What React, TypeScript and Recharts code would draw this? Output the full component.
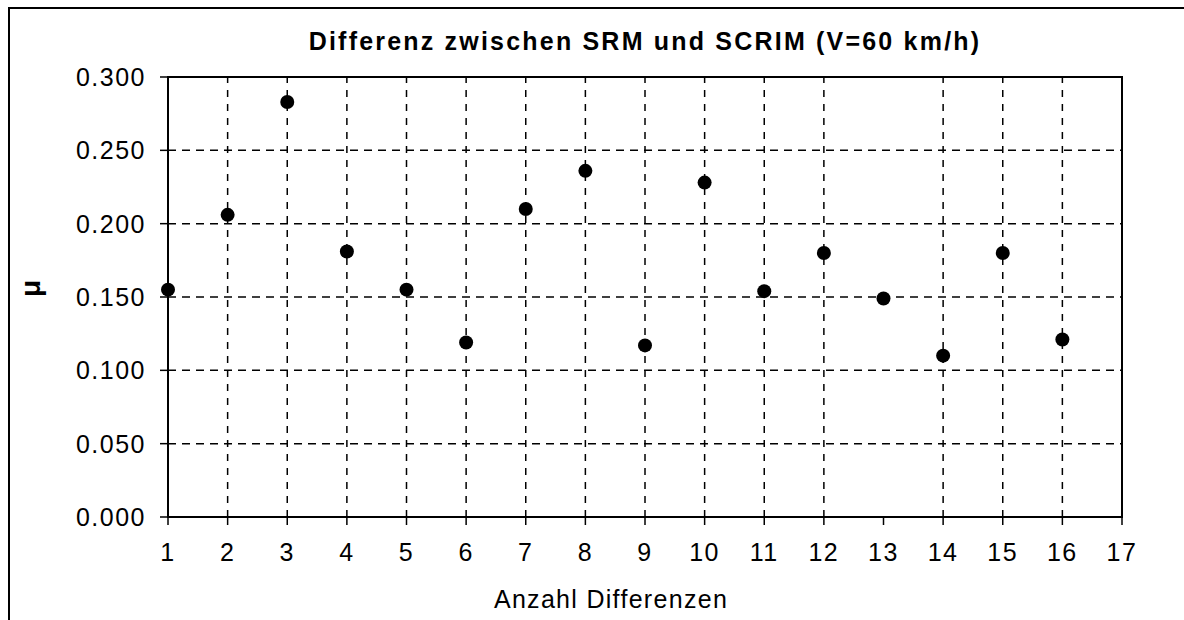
import {
  ScatterChart,
  Scatter,
  XAxis,
  YAxis,
  CartesianGrid,
  ReferenceLine,
  ReferenceArea,
} from "recharts";

const FONT = "'Liberation Sans', Arial, sans-serif";

const xValues = [1, 2, 3, 4, 5, 6, 7, 8, 9, 10, 11, 12, 13, 14, 15, 16];
const muValues = [
  0.155, 0.206, 0.283, 0.181, 0.155, 0.119, 0.21, 0.236, 0.117, 0.228, 0.154,
  0.18, 0.149, 0.11, 0.18, 0.121,
];
const xTicks = [1, 2, 3, 4, 5, 6, 7, 8, 9, 10, 11, 12, 13, 14, 15, 16, 17];
const yTicks = [0, 0.05, 0.1, 0.15, 0.2, 0.25, 0.3];
// vertical grid lines as they show in the scan (none at 13)
const gridX = [2, 3, 4, 5, 6, 7, 8, 9, 10, 11, 12, 14, 15, 16];

const data = xValues.map((x, i) => ({ x, mu: muValues[i] }));

export default function App() {
  const xTickStyle = { fill: "#000", fontSize: 25, fontFamily: FONT, letterSpacing: 1.5 };
  const yTickStyle = { fill: "#000", fontSize: 25, fontFamily: FONT, letterSpacing: 1.5 };

  return (
    <div>
      <div
        style={{
          position: "absolute",
          left: 8,
          top: 7,
          width: 1176,
          height: 613,
          boxSizing: "border-box",
          borderLeft: "2px solid #000",
          borderTop: "2px solid #000",
        }}
      />
      <div
        style={{
          position: "absolute",
          left: 0,
          top: 27,
          width: 1290,
          textAlign: "center",
          fontFamily: FONT,
          fontWeight: "bold",
          fontSize: 25,
          letterSpacing: 2.2,
          color: "#000",
        }}
      >
        Differenz zwischen SRM und SCRIM (V=60 km/h)
      </div>
      <div style={{ position: "absolute", left: 0, top: 0 }}>
        <ScatterChart
          width={1184}
          height={620}
          margin={{ top: 77, right: 62, bottom: 0, left: 0 }}
        >
          <CartesianGrid
            vertical={false}
            stroke="#000"
            strokeWidth={1.5}
            strokeDasharray="8 6"
          />
          {gridX.map((x) => (
            <ReferenceLine
              key={x}
              x={x}
              stroke="#000"
              strokeWidth={1.5}
              strokeDasharray="7 7"
            />
          ))}
          <ReferenceArea
            x1={1}
            x2={17}
            y1={0}
            y2={0.3}
            fill="none"
            fillOpacity={0}
            stroke="#000"
            strokeWidth={2}
          />
          <XAxis
            type="number"
            dataKey="x"
            domain={[1, 17]}
            ticks={xTicks}
            interval={0}
            height={103}
            tick={xTickStyle}
            tickSize={8}
            tickMargin={18}
            tickLine={{ stroke: "#000", strokeWidth: 1.5 }}
            axisLine={{ stroke: "#000", strokeWidth: 2 }}
            label={{
              value: "Anzahl Differenzen",
              position: "insideBottom",
              offset: 12,
              dx: -34,
              fill: "#000",
              fontSize: 25,
              letterSpacing: 1.3,
              fontFamily: FONT,
            }}
          />
          <YAxis
            type="number"
            dataKey="mu"
            domain={[0, 0.3]}
            ticks={yTicks}
            interval={0}
            width={168}
            tick={yTickStyle}
            tickSize={8}
            tickMargin={14}
            tickFormatter={(v: number) => v.toFixed(3)}
            tickLine={{ stroke: "#000", strokeWidth: 1.5 }}
            axisLine={{ stroke: "#000", strokeWidth: 2 }}
            label={{
              value: "μ",
              angle: -90,
              position: "insideLeft",
              offset: 30,
              fill: "#000",
              fontSize: 28,
              fontWeight: "bold",
              fontFamily: FONT,
            }}
          />
          <Scatter
            data={data}
            fill="#000"
            isAnimationActive={false}
            shape={(p: any) => <circle cx={p.cx} cy={p.cy} r={7} fill="#000" />}
          />
        </ScatterChart>
      </div>
    </div>
  );
}
